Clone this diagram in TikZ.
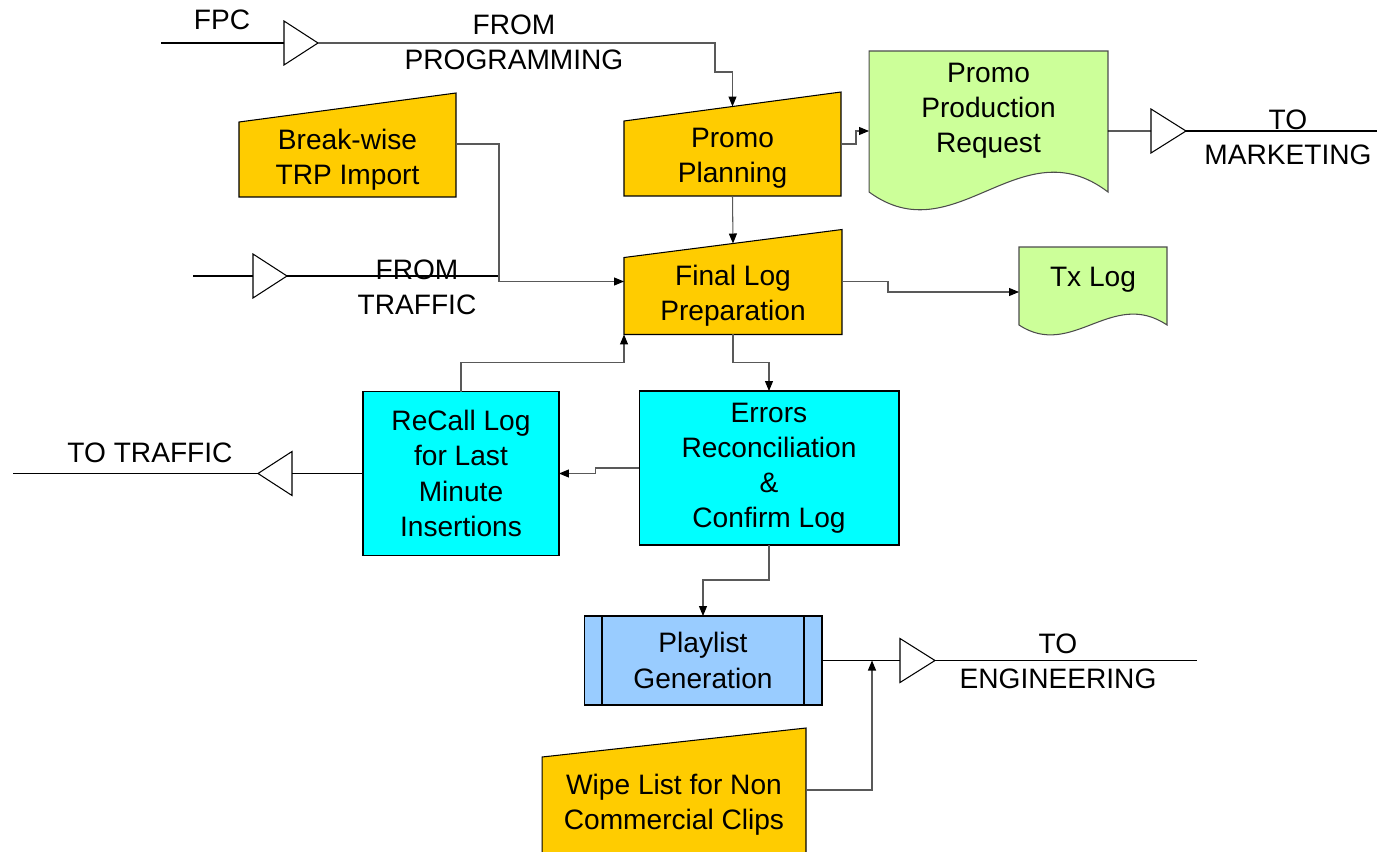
\documentclass[tikz,border=0pt]{standalone}
\usepackage{fontspec}
\setmainfont{Liberation Sans}
\usepackage{xcolor}
\usetikzlibrary{calc,arrows.meta,backgrounds}
\definecolor{gold}{HTML}{FFCC00}
\definecolor{lime}{HTML}{CCFF99}
\definecolor{aqua}{HTML}{00FFFF}
\definecolor{sky}{HTML}{99CCFF}

\begin{document}
\begin{tikzpicture}[x=0.02cm,y=-0.02cm,
    every node/.style={font=\fontsize{16}{20}\selectfont,align=center,inner sep=0pt,outer sep=0pt},
    manual/.style={fill=gold,draw=black,line width=0.6pt},
    doc/.style={fill=lime,draw=black!70,line width=0.6pt},
    proc/.style={fill=aqua,draw=black,line width=0.6pt},
    conn/.style={draw=black!65,line width=0.6pt,-{Triangle[length=0.2cm,width=0.16cm,color=black]}},
    wire/.style={draw=black,line width=0.6pt},
    buf/.style={draw=black,fill=white,line width=0.6pt}]
        \useasboundingbox (0,0) rectangle (1377,852);
        \clip (0,0) rectangle (1377,852);

        % boxes
        \node (bti) at (347.5,159.5) [minimum width=4.34cm,minimum height=1.5cm] {Break-wise\\TRP Import};
        \node (pp) at (732.5,158.5) [minimum width=4.34cm,minimum height=1.5cm] {Promo\\Planning};
        \node (flp) at (733,296) [minimum width=4.36cm,minimum height=1.54cm] {Final Log\\Preparation};
        \node (wipe) at (674,805) [minimum width=5.28cm,minimum height=1.92cm] {Wipe List for Non\\Commercial Clips};
        \node (ppr) at (988.5,110.5) [minimum width=4.78cm,minimum height=2.38cm] {Promo\\Production\\Request};
        \node (tx) at (1093,280) [minimum width=2.96cm,minimum height=1.32cm] {Tx Log};
        \node (erc) at (769,468) [proc,minimum width=5.2cm,minimum height=3.08cm] {Errors\\Reconciliation\\\&\\Confirm Log};
        \node (rcl) at (461,473.5) [proc,minimum width=3.92cm,minimum height=3.28cm] {ReCall Log\\for Last\\Minute\\Insertions};
        \node (pg) at (703,660.5) [proc,fill=sky,minimum width=4.76cm,minimum height=1.78cm] {Playlist\\Generation};
        \draw[line width=0.6pt] ([xshift=.36cm]pg.north west) -- ([xshift=.36cm]pg.south west);
        \draw[line width=0.6pt] ([xshift=-.36cm]pg.north east) -- ([xshift=-.36cm]pg.south east);

        \coordinate (btiTR) at ($(bti.north east)+(0,-29)$);
        \coordinate (ppTR) at ($(pp.north east)+(0,-29)$);
        \coordinate (flpTR) at ($(flp.north east)+(0,-28)$);
        \coordinate (wipeTR) at ($(wipe.north east)+(0,-29)$);

        \begin{scope}[on background layer]
            \draw[manual] (bti.south west) -- (bti.north west) -- (btiTR) -- (bti.south east) -- cycle;
            \draw[manual] (pp.south west) -- (pp.north west) -- (ppTR) -- (pp.south east) -- cycle;
            \draw[manual] (flp.south west) -- (flp.north west) -- (flpTR) -- (flp.south east) -- cycle;
            \draw[manual] (wipe.south west) -- (wipe.north west) -- (wipeTR) -- (wipe.south east) -- cycle;
            \draw[doc] (ppr.north west) -- (ppr.north east) -- ($(ppr.south east)+(0,22)$)
                .. controls ($(ppr.south west)+(151,-45)$) and ($(ppr.south west)+(86,85)$) .. ($(ppr.south west)+(0,22)$) -- cycle;
            \draw[doc] (tx.north west) -- (tx.north east) -- ($(tx.south east)+(0,12)$)
                .. controls ($(tx.south west)+(93,-25)$) and ($(tx.south west)+(53,47)$) .. ($(tx.south west)+(0,12)$) -- cycle;
        \end{scope}

        % off-page labels
        \node (fpcT) at (222,20) {FPC};
        \node (fromProg) at (514,42) {FROM\\PROGRAMMING};
        \node (toMkt) at (1288,137) {TO\\MARKETING};
        \node (fromTr) at (417,287) {FROM\\TRAFFIC};
        \node (toTr) at (150,453) {TO TRAFFIC};
        \node (toEng) at (1058,661) {TO\\ENGINEERING};

        % buffers
        \coordinate (fpcIn) at (161,43); \coordinate (t1A) at (284,43); \coordinate (t1B) at (318,43);
        \coordinate (trIn) at (193,276); \coordinate (t2A) at (253,276); \coordinate (t2B) at (287,276); \coordinate (trJ) at (499,276);
        \coordinate (t3A) at (1151,131); \coordinate (t3B) at (1186,131); \coordinate (mkOut) at (1377,131);
        \coordinate (t4A) at (292,473.5); \coordinate (t4B) at (258,473.5); \coordinate (trOut) at (13,473.5);
        \coordinate (t5A) at (900,660.5); \coordinate (t5B) at (935,660.5); \coordinate (engOut) at (1197,660.5);
        \coordinate (junc) at (872,660.5);
        \draw[buf] ($(t1A)+(0,-22)$) -- (t1B) -- ($(t1A)+(0,22)$) -- cycle;
        \draw[buf] ($(t2A)+(0,-22)$) -- (t2B) -- ($(t2A)+(0,22)$) -- cycle;
        \draw[buf] ($(t3A)+(0,-22)$) -- (t3B) -- ($(t3A)+(0,22)$) -- cycle;
        \draw[buf] ($(t4A)+(0,-22)$) -- (t4B) -- ($(t4A)+(0,22)$) -- cycle;
        \draw[buf] ($(t5A)+(0,-22)$) -- (t5B) -- ($(t5A)+(0,22)$) -- cycle;

        % lines
        \draw[wire] (fpcIn) -- (t1A); \draw[wire] (trIn) -- (t2A); \draw[wire] (t2B) -- (trJ);
        \draw[wire] ([yshift=-.41cm]ppr.east) -- (t3A); \draw[wire] (t3B) -- (mkOut);
        \draw[wire] (rcl.west) -- (t4A); \draw[wire] (t4B) -- (trOut);
        \draw[wire] (pg.east) -- (t5A); \draw[wire] (t5B) -- (engOut);
        \draw[conn] (t1B) -- (715,43) -- (715,72) -| ($(pp.north west)!.5!(ppTR)$);
        \draw[conn] ([yshift=.29cm]pp.east) -- ++(15,0) |- ([yshift=-.41cm]ppr.west);
        \draw[conn] (pp.south) -- ($(flp.north west)!.5!(flpTR)$);
        \draw[conn] ([yshift=.31cm]bti.east) -- ++(43,0) |- ([yshift=.29cm]flp.west);
        \draw[conn] ([yshift=.29cm]flp.east) -- ++(46,0) |- ([yshift=-.24cm]tx.west);
        \draw[conn] (flp.south) -- ++(0,28) -| (erc.north);
        \draw[conn] (erc.west) -- ++(-44,0) |- (rcl.east);
        \draw[conn] (rcl.north) -- ++(0,-29) -| (flp.south west);
        \draw[conn] (erc.south) -- ++(0,35) -| (pg.north);
        \draw[conn] ([yshift=.3cm]wipe.east) -| (junc);
    \end{tikzpicture}
\end{document}
